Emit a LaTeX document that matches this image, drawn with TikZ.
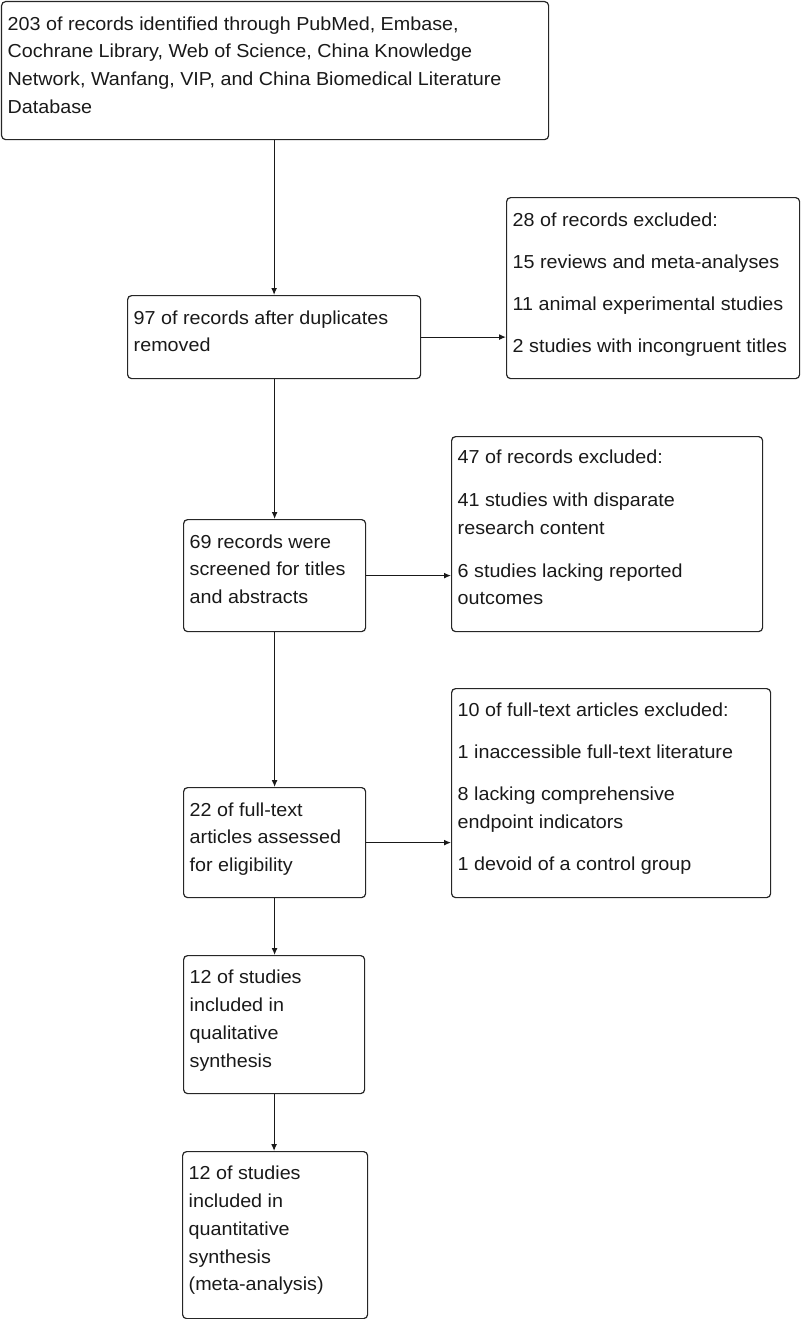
\documentclass[tikz,border=0pt]{standalone}
\usepackage{fontspec}
\setmainfont{Liberation Sans}[FakeStretch=1.05]
\usetikzlibrary{arrows.meta,calc}
\begin{document}
\begin{tikzpicture}[x=1pt,y=-1pt,
  box/.style={draw=black!85, line width=1.2pt, rounded corners=4pt, inner sep=0pt, anchor=north west},
  txt/.style={anchor=north west, inner sep=0pt, align=left, font=\fontsize{18.8}{27.8}\selectfont, text=black!90},
  arr/.style={draw=black!90, line width=1.2pt, -{Latex[length=7pt,width=6pt]}}]
\useasboundingbox (0,0) rectangle (800,1319);
% boxes
\node[box, minimum width=547pt, minimum height=138pt] (b1) at (1,1) {};
\node[box, minimum width=293pt, minimum height=83pt]  (b2) at (127,295) {};
\node[box, minimum width=293pt, minimum height=181pt] (b3) at (506,197) {};
\node[box, minimum width=182pt, minimum height=112pt] (b4) at (183,519) {};
\node[box, minimum width=311pt, minimum height=195pt] (b5) at (451,436) {};
\node[box, minimum width=182pt, minimum height=110pt] (b6) at (183,787) {};
\node[box, minimum width=319pt, minimum height=209pt] (b7) at (451,688) {};
\node[box, minimum width=181pt, minimum height=138pt] (b8) at (183,955) {};
\node[box, minimum width=185pt, minimum height=167pt] (b9) at (182,1151) {};
% texts
\node[txt] (t1) at ($(b1.north west)+(6.5,9.5)$) {\strut 203 of records identified through PubMed, Embase,\\Cochrane Library, Web of Science, China Knowledge\\Network, Wanfang, VIP, and China Biomedical Literature\\Database};
\node[txt] (t2) at ($(b2.north west)+(6.5,9.5)$) {\strut 97 of records after duplicates\\removed};
\node[txt] (t3) at ($(b3.north west)+(6.5,9.5)$) {\strut 28 of records excluded:\\[14.2pt]15 reviews and meta-analyses\\[14.2pt]11 animal experimental studies\\[14.2pt]2 studies with incongruent titles};
\node[txt] (t4) at ($(b4.north west)+(6.5,9.5)$) {\strut 69 records were\\screened for titles\\and abstracts};
\node[txt] (t5) at ($(b5.north west)+(6.5,8)$) {\strut 47 of records excluded:\\[15pt]41 studies with disparate\\research content\\[15pt]6 studies lacking reported\\outcomes};
\node[txt] (t6) at ($(b6.north west)+(6.5,9.5)$) {\strut 22 of full-text\\articles assessed\\for eligibility};
\node[txt] (t7) at ($(b7.north west)+(6.5,9)$) {\strut 10 of full-text articles excluded:\\[14.2pt]1 inaccessible full-text literature\\[14.2pt]8 lacking comprehensive\\endpoint indicators\\[14.2pt]1 devoid of a control group};
\node[txt] (t8) at ($(b8.north west)+(6.5,9)$) {\strut 12 of studies\\included in\\qualitative\\synthesis};
\node[txt] (t9) at ($(b9.north west)+(6.5,9)$) {\strut 12 of studies\\included in\\quantitative\\synthesis\\(meta-analysis)};
% connectors
\draw[arr] (b2.north |- b1.south) -- (b2.north);
\draw[arr] (b2.east) -- (b2.east -| b3.west);
\draw[arr] (b4.north |- b2.south) -- (b4.north);
\draw[arr] (b4.east) -- (b4.east -| b5.west);
\draw[arr] (b4.south) -- (b6.north);
\draw[arr] (b6.east) -- (b6.east -| b7.west);
\draw[arr] (b6.south) -- (b6.south |- b8.north);
\draw[arr] (b8.south) -- (b8.south |- b9.north);
\end{tikzpicture}
\end{document}
